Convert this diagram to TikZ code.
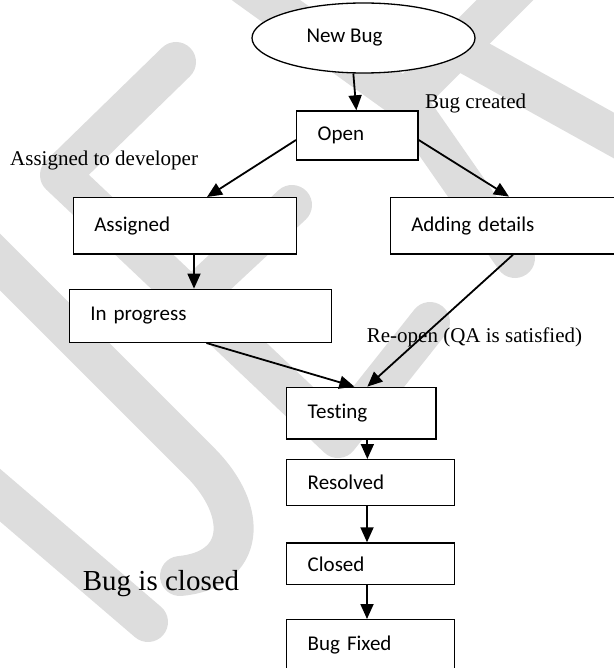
\documentclass[tikz,border=0pt]{standalone}
\usepackage{fontspec}
\setmainfont{Liberation Serif}
\newfontfamily\boxfont[Ligatures=NoCommon]{Carlito}
\usepackage{tikz}
\usetikzlibrary{shapes.geometric, arrows.meta}
\definecolor{wmgray}{RGB}{221,221,221}
\tikzstyle{startstop} = [ellipse, draw, fill=white, line width=1.3pt, minimum width=223pt, minimum height=70pt, inner sep=0pt, font=\boxfont\fontsize{21}{25}\selectfont]
\tikzstyle{process} = [rectangle, draw, fill=white, line width=1.4pt, inner xsep=21pt, inner ysep=0pt, align=left, font=\boxfont\fontsize{21}{25}\selectfont]
\tikzstyle{arrow} = [line width=1.8pt, -{Triangle[length=15pt,width=13pt]}]
\tikzstyle{note} = [inner sep=0pt, anchor=base west, font=\fontsize{21}{25}\selectfont]
\tikzstyle{band} = [line width=40pt, wmgray, line cap=round, line join=round]

\begin{document}
\begin{tikzpicture}[x=1pt, y=-1pt]
        \useasboundingbox (0,0) rectangle (613,668);
        % watermark
        \draw[band] (176,62) -- (60,175) -- (338,438) -- (430,322);
        \draw[band] (292,205) -- (190,300);
        \draw[band] (-30,232) -- (200,462) .. controls (250,512) and (245,570) .. (180,576);
        \draw[band] (-20,478) -- (148,622);
        \draw[band] (245,-15) -- (405,100) -- (525,-20);
        \draw[band] (405,100) -- (515,258);
        \draw[band] (469,55) -- (640,150);

        % labels
        \node[note] (lblcreated) at (425,108.3) {Bug created};
        \node[note] (lbldev) at (10,165.7) {Assigned to developer};
        \node[note] (lblreopen) at (366.7,342.7) {Re-open (QA is satisfied)};
        \node[note, font=\fontsize{29}{34}\selectfont] (lblclosed) at (82.7,590.7) {Bug is closed};

        % states
        \node[startstop] (newbug) at (363.5,38) {New Bug\hspace*{38pt}};
        \node[process, text width=79.3pt, minimum height=49pt] (open) at (357.35,135.5) {Open};
        \node[process, text width=181.4pt, minimum height=56.3pt] (assigned) at (185,225.85) {Assigned};
        \node[process, text width=195.4pt, minimum height=56.7pt] (adding) at (509,225.65) {Adding details};
        \node[process, text width=220.2pt, minimum height=53pt] (inprog) at (200.4,315.8) {In progress};
        \node[process, text width=107.3pt, minimum height=51.7pt] (testing) at (361.35,413.15) {Testing};
        \node[process, text width=125.6pt, minimum height=46pt] (resolved) at (370.5,482.7) {Resolved};
        \node[process, text width=125.6pt, minimum height=41.7pt] (closed) at (370.5,563.85) {Closed};
        \node[process, text width=125.6pt, minimum height=50.3pt] (fixed) at (370.5,644.85) {Bug Fixed};

        % transitions
        \draw[arrow] (newbug.254) -- ([xshift=-1pt]open.north);
        \draw[arrow] ([yshift=-4.5pt]open.west) -- ([xshift=22pt]assigned.north);
        \draw[arrow] ([yshift=-4.5pt]open.east) -- (adding.north);
        \draw[arrow] ([xshift=9pt]assigned.south) -- ([xshift=9pt]assigned.south |- inprog.north);
        \draw[arrow] ([xshift=6pt]inprog.south) -- ([xshift=-7pt]testing.north);
        \draw[arrow] ([xshift=4pt]adding.south) -- ([xshift=6pt]testing.north);
        \draw[arrow] ([xshift=6pt]testing.south) -- ([xshift=6pt]testing.south |- resolved.north);
        \draw[arrow] ([xshift=-3.5pt]resolved.south) -- ([xshift=-3.5pt]closed.north);
        \draw[arrow] ([xshift=-3.5pt]closed.south) -- ([xshift=-3.5pt]fixed.north);
\end{tikzpicture}
\end{document}
